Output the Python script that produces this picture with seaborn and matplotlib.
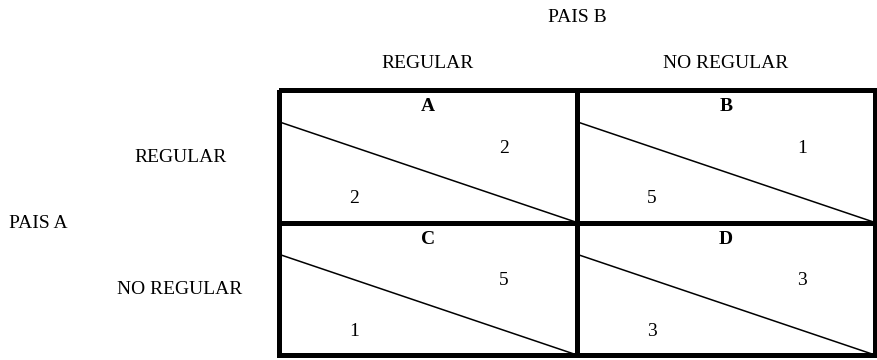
import matplotlib
matplotlib.use("Agg")
import matplotlib.pyplot as plt
import seaborn as sns
import numpy as np

# game data
col_player = "PAIS B"
row_player = "PAIS A"
strategies = ["REGULAR", "NO REGULAR"]
cell_names = [["A", "B"], ["C", "D"]]
payoff_a = [[2, 5], [1, 3]]   # row player, lower-left of each cell
payoff_b = [[2, 1], [5, 3]]   # column player, upper-right of each cell

sns.set_style("white")
plt.rcParams['font.family'] = ['Liberation Serif', 'DejaVu Serif']
plt.rcParams['text.color'] = 'black'

W, H = 878, 360
fig = plt.figure(figsize=(W / 100, H / 100), dpi=100)

# full figure axes in pixel coordinates for the outer labels
ax = fig.add_axes([0, 0, 1, 1])
ax.set_xlim(0, W)
ax.set_ylim(H, 0)
ax.axis("off")

# grid area (pixels)
gx0, gx1, gy0, gy1 = 279, 875, 90, 355
ax2 = fig.add_axes([gx0 / W, 1 - gy1 / H, (gx1 - gx0) / W, (gy1 - gy0) / H])
sns.heatmap(np.zeros((2, 2)), ax=ax2, cmap=["white"], cbar=False,
            linewidths=3.3, linecolor="black", annot=False)
for coll in ax2.collections:
    coll.set_clip_on(False)
    coll.set_joinstyle("miter")
ax2.set_xticks([])
ax2.set_yticks([])

fs = 14
ax.text((gx0 + gx1) / 2, 18, col_player, ha="center", va="center", fontsize=fs)
for j, s in enumerate(strategies):
    cx = gx0 + (j + 0.5) * (gx1 - gx0) / 2
    ax.text(cx, 63, s, ha="center", va="center", fontsize=fs)
ax.text(38, 224, row_player, ha="center", va="center", fontsize=fs)
ax.text(181, 157, strategies[0], ha="center", va="center", fontsize=fs)
ax.text(180, 289, strategies[1], ha="center", va="center", fontsize=fs)

for i in range(2):
    for j in range(2):
        ax2.plot([j, j + 1], [i + 0.24, i + 1], color="black", lw=1.1,
                 clip_on=False, zorder=1)
        ax2.text(j + 0.5, i + 0.126, cell_names[i][j], ha="center",
                 va="center", fontsize=fs, fontweight="bold")
        ax2.text(j + 0.755, i + 0.44, str(payoff_b[i][j]), ha="center",
                 va="center", fontsize=fs)
        ax2.text(j + 0.252, i + 0.82, str(payoff_a[i][j]), ha="center",
                 va="center", fontsize=fs)

plt.savefig("out.png", dpi=100)
